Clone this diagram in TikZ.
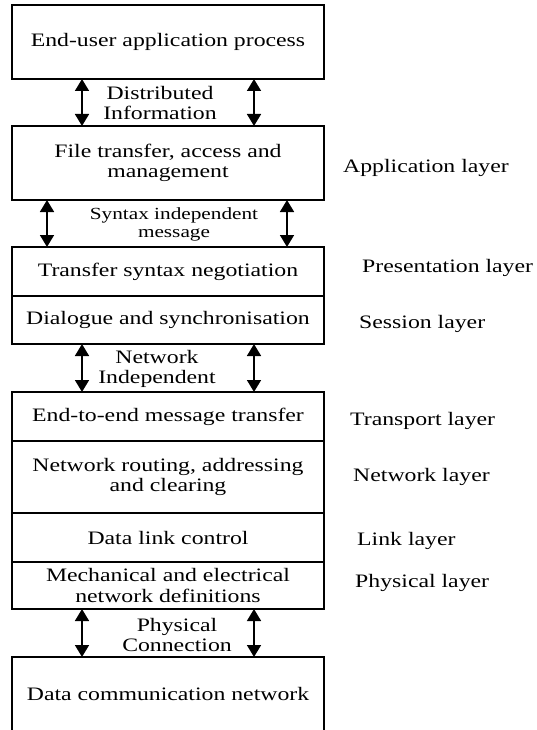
\documentclass[tikz,border=0pt]{standalone}
\usepackage{fontspec}
\setmainfont{Liberation Serif}[FakeStretch=1.25]
\usetikzlibrary{arrows.meta}
\begin{document}
\begin{tikzpicture}[x=1pt,y=-1pt,
  layerbox/.style={draw, line width=2pt, minimum width=312pt, inner sep=0pt,
    outer sep=0pt, align=center, font=\fontsize{19}{20.5}\selectfont},
  flowlabel/.style={align=center, inner sep=0pt, font=\fontsize{19}{20}\selectfont},
  smalllabel/.style={align=center, inner sep=0pt, font=\fontsize{17}{18.5}\selectfont},
  layername/.style={anchor=base west, inner sep=0pt, font=\fontsize{19}{20}\selectfont},
  biarrow/.style={line width=1.6pt,
    {Triangle[length=12pt,width=14pt]}-{Triangle[length=12pt,width=14pt]}}]
\useasboundingbox[fill=white] (0,0) rectangle (537,730);

% protocol stack boxes
\node[layerbox, minimum height=74pt] (user) at (168,42) {End-user application process};
\node[layerbox, minimum height=74pt] (file) at (168,163) {File transfer, access and\\management};
\node[layerbox, minimum height=49pt] (pres) at (168,271.5) {Transfer syntax negotiation};
\node[layerbox, minimum height=48pt] (sess) at (168,320) {Dialogue and synchronisation};
\node[layerbox, minimum height=49pt] (trans) at (168,416.5) {End-to-end message transfer};
\node[layerbox, minimum height=72pt] (net) at (168,477) {Network routing, addressing\\and clearing};
\node[layerbox, minimum height=49pt] (link) at (168,537.5) {Data link control};
\node[layerbox, minimum height=47pt] (phys) at (168,585.5) {Mechanical and electrical\\network definitions};
\node[layerbox, draw=none, minimum height=74pt] (dcn) at (168,694) {Data communication network};
\draw[line width=2pt] (dcn.south west) -- (dcn.north west) -- (dcn.north east) -- (dcn.south east);

% arrow columns
\coordinate (ca) at (82,0);
\coordinate (cb) at (254,0);
\coordinate (cc) at (47,0);
\coordinate (cd) at (287,0);

\draw[biarrow] (user.south -| ca) -- (file.north -| ca);
\draw[biarrow] (user.south -| cb) -- (file.north -| cb);
\draw[biarrow] (file.south -| cc) -- (pres.north -| cc);
\draw[biarrow] (file.south -| cd) -- (pres.north -| cd);
\draw[biarrow] (sess.south -| ca) -- (trans.north -| ca);
\draw[biarrow] (sess.south -| cb) -- (trans.north -| cb);
\draw[biarrow] (phys.south -| ca) -- (dcn.north -| ca);
\draw[biarrow] (phys.south -| cb) -- (dcn.north -| cb);

% interface labels
\node[flowlabel] (l1) at (160,103.5) {Distributed\\Information};
\node[smalllabel] (l2) at (174,224.5) {Syntax independent\\message};
\node[flowlabel] (l3) at (157,368.5) {Network\\Independent};
\node[flowlabel] (l4) at (177,634.5) {Physical\\Connection};

% OSI layer names
\node[layername] (n1) at (343,173) {Application layer};
\node[layername] (n2) at (362,272) {Presentation layer};
\node[layername] (n3) at (359,328) {Session layer};
\node[layername] (n4) at (350,425) {Transport layer};
\node[layername] (n5) at (353,481) {Network layer};
\node[layername] (n6) at (357,545) {Link layer};
\node[layername] (n7) at (355,587) {Physical layer};
\end{tikzpicture}
\end{document}
